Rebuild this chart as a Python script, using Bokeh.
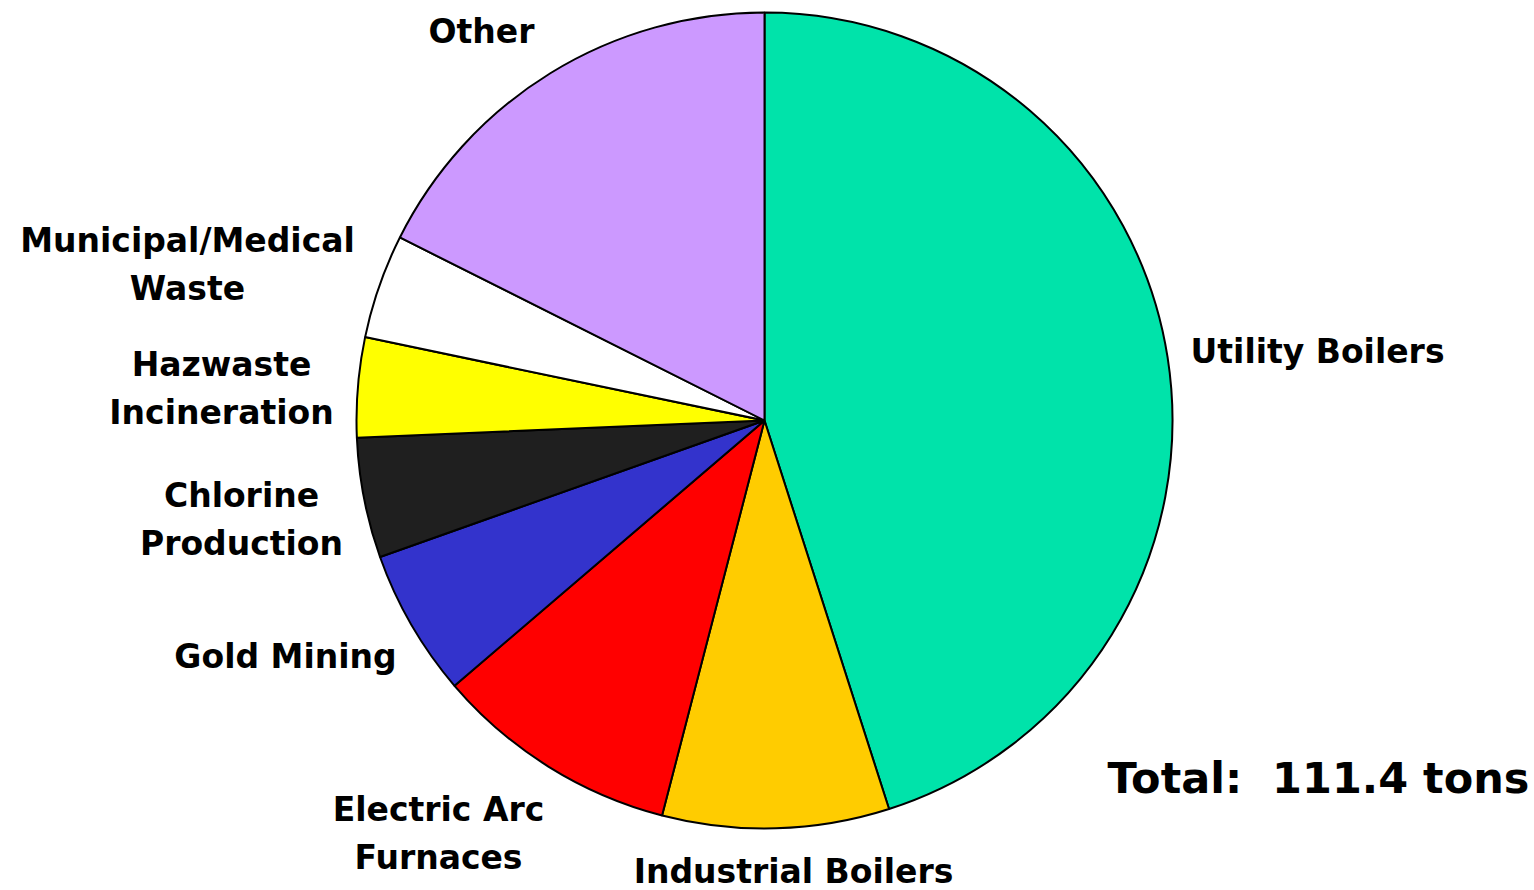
import math
from bokeh.plotting import figure
from bokeh.models import Range1d, ColumnDataSource
from bokeh.core.properties import value
from bokeh.embed import file_html
from bokeh.resources import INLINE

# ---- data ----
categories = ["Utility Boilers", "Industrial Boilers", "Electric Arc Furnaces", "Gold Mining",
              "Chlorine Production", "Hazwaste Incineration", "Municipal/Medical Waste", "Other"]
tons = [50.2, 10.0, 10.8, 6.5, 5.3, 4.4, 4.6, 19.6]
colors = ["#00E3AA", "#FFCC00", "#FF0000", "#3333CC", "#1F1F1F", "#FFFF00", "#FFFFFF", "#CC99FF"]
label_lines = [["Utility Boilers"], ["Industrial Boilers"], ["Electric Arc", "Furnaces"], ["Gold Mining"],
               ["Chlorine", "Production"], ["Hazwaste", "Incineration"], ["Municipal/Medical", "Waste"], ["Other"]]
total_text = "Total:\u00a0 111.4 tons"

# ---- layout (pixel positions, top-left origin) ----
W, H = 1534, 890
CX, CY, R = 764, 420, 408
label_pos = {  # (x, y of first line, align)
    "Utility Boilers": (1190, 351, "left"),
    "Industrial Boilers": (793, 871, "center"),
    "Electric Arc Furnaces": (438, 809, "center"),
    "Gold Mining": (285, 656, "center"),
    "Chlorine Production": (241, 495, "center"),
    "Hazwaste Incineration": (221, 364, "center"),
    "Municipal/Medical Waste": (187, 240, "center"),
    "Other": (481, 31, "center"),
}
LINE_GAP = 48

total = sum(tons)
starts, ends = [], []
cum = 0.0
for t in tons:
    starts.append(math.pi / 2 - 2 * math.pi * cum / total)
    cum += t
    ends.append(math.pi / 2 - 2 * math.pi * cum / total)

src = ColumnDataSource(dict(x=[CX] * len(tons), y=[H - CY] * len(tons), start=starts, end=ends,
                            color=colors, name=categories, tons=tons))

p = figure(width=W, height=H, x_range=Range1d(0, W), y_range=Range1d(0, H),
           output_backend="svg", toolbar_location=None, min_border=0)
p.axis.visible = False
p.grid.visible = False
p.outline_line_color = None
p.background_fill_color = "white"
p.border_fill_color = "white"

p.wedge(x="x", y="y", radius=R, start_angle="start", end_angle="end", direction="clock",
        fill_color="color", line_color="black", line_width=2, source=src)

for cat, lines in zip(categories, label_lines):
    x0, y0, align = label_pos[cat]
    xs = [x0] * len(lines)
    ys = [H - (y0 + i * LINE_GAP) for i in range(len(lines))]
    p.text(x=xs, y=ys, text=lines, text_font=value("DejaVu Sans"), text_font_style="bold",
           text_font_size="33px", text_align=align, text_baseline="middle", text_color="black")

p.text(x=[1107], y=[H - 777], text=[total_text], text_font=value("DejaVu Sans"), text_font_style="bold",
       text_font_size="43px", text_align="left", text_baseline="middle", text_color="black")

open("out.html", "w").write(file_html(p, INLINE))
